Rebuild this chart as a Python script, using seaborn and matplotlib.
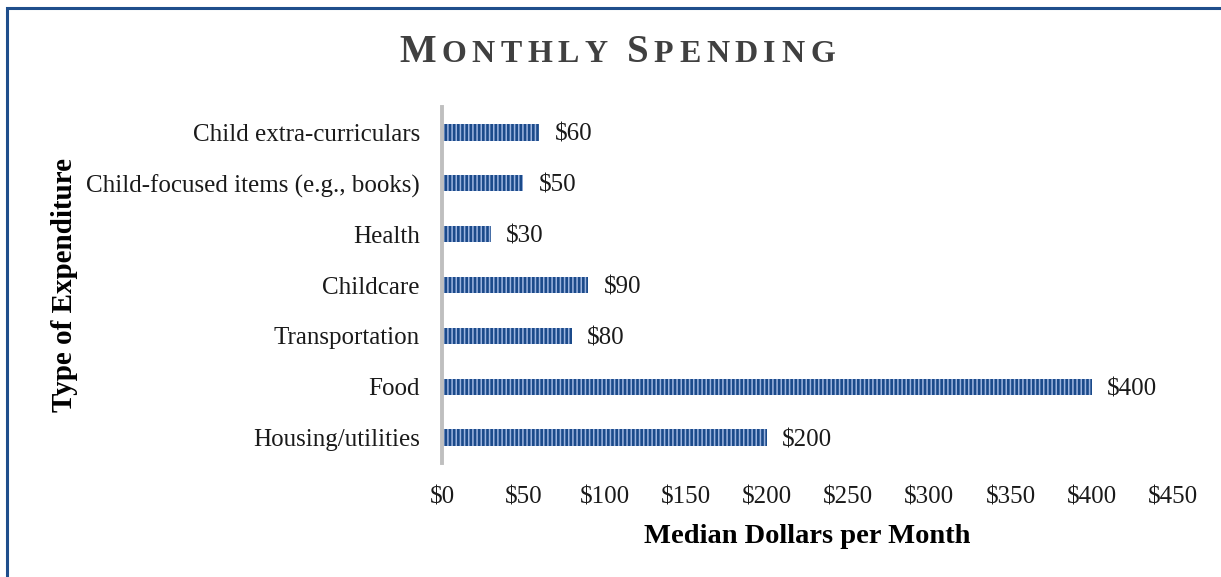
import matplotlib
matplotlib.use("Agg")
import pandas as pd
from matplotlib import pyplot as plt
from matplotlib.patches import Rectangle
from matplotlib.offsetbox import TextArea, HPacker, AnchoredOffsetbox
import seaborn as sns

# data
categories = ["Child extra-curriculars", "Child-focused items (e.g., books)", "Health",
              "Childcare", "Transportation", "Food", "Housing/utilities"]
values = [60, 50, 30, 90, 80, 400, 200]
xticks = [0, 50, 100, 150, 200, 250, 300, 350, 400, 450]

df = pd.DataFrame({"category": categories, "dollars": values})

sns.set_theme(style="white")
plt.rcParams['font.family'] = ['Liberation Serif', 'DejaVu Serif']
plt.rcParams['hatch.linewidth'] = 1.1

fig = plt.figure(figsize=(12.21, 5.77), dpi=100)
ax = fig.add_axes([442 / 1221, 1 - 463 / 577, (1173 - 442) / 1221, 356 / 577])

sns.barplot(data=df, y="category", x="dollars", orient="h", order=categories,
            color="#1F4E8C", width=0.32, ax=ax, saturation=1)
for bar in ax.patches:
    bar.set_facecolor("#1B4A8A")
    bar.set_edgecolor("#9DB5E0")
    bar.set_hatch("||||")
    bar.set_linewidth(0)

labels = ax.bar_label(ax.containers[0], labels=[f"${v}" for v in values], padding=11,
                      fontsize=18, color="#1a1a1a")
for t in labels:
    t.set_va("center_baseline")

ax.set_xlim(0, 450)
ax.set_xticks(xticks)
ax.set_xticklabels([f"${t}" for t in xticks])
ax.tick_params(axis="x", length=0, pad=17, labelsize=18, labelcolor="#1a1a1a")
ax.tick_params(axis="y", length=0, pad=16, labelsize=18, labelcolor="#1a1a1a")

for s in ["top", "right", "bottom"]:
    ax.spines[s].set_visible(False)
ax.spines["left"].set_color("#BFBFBF")
ax.spines["left"].set_linewidth(2.8)

ax.set_xlabel("Median Dollars per Month", fontsize=20.5, fontweight="bold", color="#000000")
ax.set_ylabel("Type of Expenditure", fontsize=21, fontweight="bold", color="#000000")
ax.xaxis.set_label_coords(0.5, (463 - 524) / 356)
ax.yaxis.set_label_coords((78 - 442) / 731, 0.5)

# small caps title, letter by letter for the wide tracking
big = dict(size=28, weight="bold", color="#404040", family="Liberation Serif")
small = dict(size=23, weight="bold", color="#404040", family="Liberation Serif")
parts = []
for word in ["MONTHLY", "SPENDING"]:
    if parts:
        parts.append(TextArea(" ", textprops=small))
    for i, ch in enumerate(word):
        parts.append(TextArea(ch, textprops=big if i == 0 else small))
title = HPacker(children=parts, align="baseline", pad=0, sep=4.0)
anchored = AnchoredOffsetbox(loc="center", child=title, frameon=False,
                             bbox_to_anchor=(617 / 1221, 1 - 52 / 577),
                             bbox_transform=fig.transFigure, pad=0, borderpad=0)
fig.add_artist(anchored)

# frame around the chart (runs off the right and bottom edges)
fig.add_artist(Rectangle((7 / 1221, -0.05), 1.1, 1 - 8 / 577 + 0.05,
                         transform=fig.transFigure, fill=False,
                         edgecolor="#1F4E8C", linewidth=2.2))

fig.savefig("out.png", dpi=100)
